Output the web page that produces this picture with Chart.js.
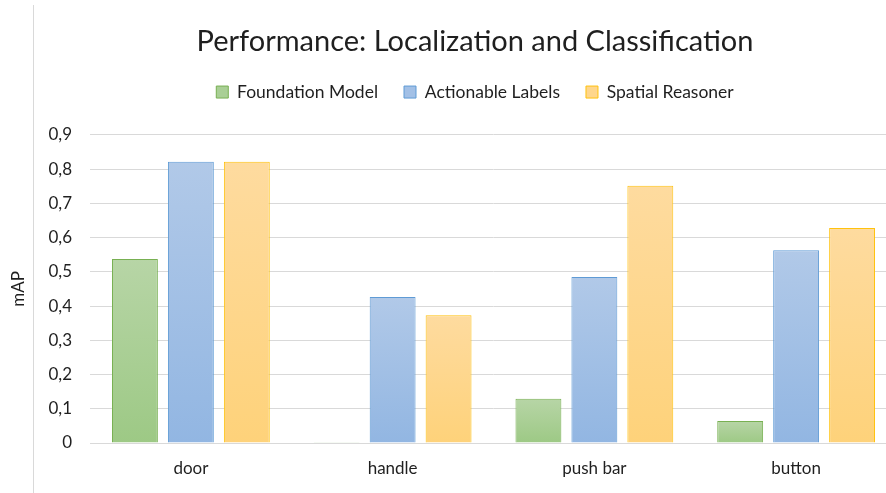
<!DOCTYPE html>
<html>
<head>
<meta charset="utf-8">
<script src="https://cdn.jsdelivr.net/npm/chart.js@4.4.1/dist/chart.umd.min.js"></script>
<style>
  html, body { margin: 0; padding: 0; background: #fff; overflow: hidden; width: 886px; height: 493px; }
  #wrap { position: absolute; left: 0; top: 0; width: 950px; height: 493px; }
  #edge { position: absolute; left: 33px; top: 5px; width: 0; height: 488px; border-left: 1px solid #d9d9d9; }
</style>
</head>
<body>
<div id="edge"></div>
<div id="wrap"><canvas id="c" width="950" height="493"></canvas></div>
<script>
const categories = ['door', 'handle', 'push bar', 'button'];
const seriesNames = ['Foundation Model', 'Actionable Labels', 'Spatial Reasoner'];
const foundationModel = [0.537, 0.002, 0.129, 0.064];
const actionableLabels = [0.821, 0.426, 0.485, 0.563];
const spatialReasoner = [0.821, 0.373, 0.751, 0.628];
const yTickLabels = ['0', '0,1', '0,2', '0,3', '0,4', '0,5', '0,6', '0,7', '0,8', '0,9'];

function grad(top, bottom) {
  return (ctx) => {
    const chart = ctx.chart;
    const y = chart.scales && chart.scales.y;
    if (!chart.chartArea || !y || ctx.raw == null) return bottom;
    const y0 = y.getPixelForValue(0), y1 = y.getPixelForValue(ctx.raw);
    if (!isFinite(y1) || !isFinite(y0) || y0 - y1 < 1) return bottom;
    const g = chart.ctx.createLinearGradient(0, y1, 0, y0);
    g.addColorStop(0, top);
    g.addColorStop(1, bottom);
    return g;
  };
}

const styles = [
  { top: '#b7d5a6', bottom: '#9dc985', mid: '#a9cf95', border: '#78b052' },
  { top: '#b1c9e8', bottom: '#92b6e2', mid: '#a2c0e6', border: '#5f9bd5' },
  { top: '#fedb9f', bottom: '#fed27a', mid: '#fed68c', border: '#ffc20e' }
];
const values = [foundationModel, actionableLabels, spatialReasoner];

const font = "Lato, 'Open Sans', sans-serif";
const textColor = '#1f1f1f';

new Chart(document.getElementById('c'), {
  type: 'bar',
  data: {
    labels: categories,
    datasets: seriesNames.map((name, i) => ({
      label: name,
      data: values[i],
      backgroundColor: grad(styles[i].top, styles[i].bottom),
      borderColor: styles[i].border,
      borderWidth: 1,
      categoryPercentage: 0.832,
      barPercentage: 0.82
    }))
  },
  options: {
    responsive: false,
    animation: false,
    layout: { padding: 0 },
    plugins: {
      title: {
        display: true,
        text: 'Performance: Localization and Classification',
        color: textColor,
        font: { family: font, size: 29, weight: 'normal' },
        padding: { top: 24, bottom: -1.5 }
      },
      legend: {
        display: true,
        position: 'top',
        labels: {
          color: textColor,
          font: { family: font, size: 17.5 },
          boxWidth: 12,
          boxHeight: 12,
          padding: 26,
          generateLabels: (chart) => chart.data.datasets.map((ds, i) => ({
            text: ds.label,
            fillStyle: styles[i].mid,
            strokeStyle: styles[i].border,
            lineWidth: 1,
            fontColor: textColor,
            datasetIndex: i,
            hidden: false
          }))
        }
      },
      tooltip: { enabled: false }
    },
    scales: {
      x: {
        grid: { display: false, drawTicks: false },
        border: { display: true, color: '#d9d9d9', width: 1 },
        ticks: { color: textColor, font: { family: font, size: 17 }, padding: 15 },
        afterFit: (s) => { s.height = 50; }
      },
      xTopSpace: {
        type: 'category',
        position: 'top',
        grid: { display: false, drawTicks: false },
        border: { display: false },
        ticks: { display: false },
        afterFit: (s) => { s.height = 24; }
      },
      y: {
        min: 0,
        max: 0.9,
        ticks: {
          stepSize: 0.1,
          color: textColor,
          font: { family: font, size: 17 },
          padding: 18,
          callback: (v, i) => yTickLabels[i]
        },
        grid: { color: '#d9d9d9', lineWidth: 1, drawTicks: false },
        border: { display: false },
        title: {
          display: true,
          text: 'mAP',
          color: textColor,
          font: { family: font, size: 17 },
          padding: { top: 8, bottom: 0 }
        },
        afterFit: (s) => { s.width = 90; }
      },
      yRightSpace: {
        type: 'linear',
        position: 'right',
        grid: { display: false, drawTicks: false },
        border: { display: false },
        ticks: { display: false },
        afterFit: (s) => { s.width = 53; }
      }
    }
  }
});
</script>
</body>
</html>
